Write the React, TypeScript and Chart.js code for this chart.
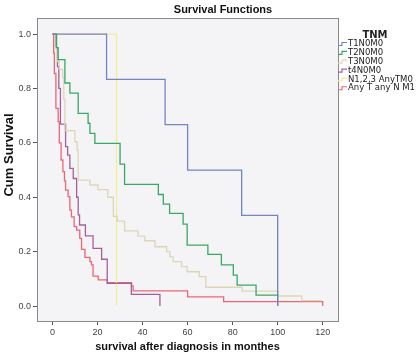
import React, { useEffect, useRef } from 'react';
import { Chart, registerables } from 'chart.js';

Chart.register(...registerables);

const seriesNames = ['T1N0M0', 'T2N0M0', 'T3N0M0', 't4N0M0', 'N1,2,3 AnyTM0', 'Any T any N M1'];
const seriesColors = ['#7483c2', '#37a866', '#ddd6b6', '#a5609b', '#f2ed98', '#ec6676'];

const t1Months = [0, 24, 50, 60, 84, 100];
const t1Surv = [1, 0.833, 0.667, 0.5, 0.333, 0];

const t2Months = [0, 1.8, 2.5, 5.5, 7.7, 11.4, 15.8, 16.6, 18.8, 30, 32, 47, 49.2, 52, 58, 59.8, 69, 75, 80.3, 82, 90.4, 100];
const t2Surv = [1, 0.95, 0.906, 0.82, 0.783, 0.708, 0.672, 0.635, 0.598, 0.522, 0.447, 0.41, 0.375, 0.341, 0.301, 0.224, 0.19, 0.151, 0.114, 0.077, 0.04, 0];

const t3Months = [0, 1, 2, 3, 4.5, 5, 5.5, 9.9, 10.9, 11.4, 16.6, 20.2, 24.5, 27, 28.7, 32, 38, 41, 45.5, 50.7, 52.1, 53.6, 57.3, 59.8, 65.2, 68.1, 84.2, 100.3, 110.7, 119.5];
const t3Surv = [1, 0.95, 0.9, 0.87, 0.84, 0.76, 0.645, 0.604, 0.574, 0.463, 0.445, 0.428, 0.4, 0.33, 0.312, 0.276, 0.257, 0.24, 0.218, 0.2, 0.181, 0.163, 0.145, 0.126, 0.108, 0.069, 0.055, 0.037, 0.02, 0.02];

const t4Months = [0, 1.5, 2.2, 2.8, 3.5, 5.8, 6.7, 7.7, 9.2, 10.7, 11.4, 12, 14.6, 18, 21.8, 24.3, 35, 47.7];
const t4Surv = [1, 0.95, 0.88, 0.8, 0.669, 0.586, 0.555, 0.506, 0.469, 0.4, 0.335, 0.298, 0.258, 0.212, 0.172, 0.083, 0.043, 0];

const nMonths = [0, 28.4];
const nSurv = [1, 0];

const m1Months = [0, 0.5, 0.8, 1.5, 2.5, 3, 3.8, 4.6, 5.3, 5.8, 6.9, 7.7, 8.4, 9.6, 10.7, 12.1, 12.9, 14.4, 16.6, 17.3, 18, 20.3, 24.3, 35.1, 35.8, 60, 76, 120];
const m1Surv = [1, 0.93, 0.855, 0.727, 0.678, 0.6, 0.537, 0.494, 0.46, 0.426, 0.402, 0.353, 0.328, 0.292, 0.279, 0.249, 0.208, 0.179, 0.163, 0.151, 0.11, 0.096, 0.086, 0.074, 0.056, 0.034, 0.016, 0];

const xTicks = [0, 20, 40, 60, 80, 100, 120];
const yTicks = [0, 0.2, 0.4, 0.6, 0.8, 1.0];

const seriesMonths = [t1Months, t2Months, t3Months, t4Months, nMonths, m1Months];
const seriesSurv = [t1Surv, t2Surv, t3Surv, t4Surv, nSurv, m1Surv];

const FONT = '"Liberation Sans", Arial, sans-serif';

const decorPlugin = {
  id: 'decor',
  beforeDraw(chart: any) {
    const { ctx, chartArea: a } = chart;
    ctx.save();
    ctx.fillStyle = '#f4f4f6';
    ctx.fillRect(a.left, a.top, a.right - a.left, a.bottom - a.top);
    ctx.restore();
  },
  afterDraw(chart: any) {
    const { ctx, chartArea: a } = chart;
    ctx.save();
    ctx.strokeStyle = '#8a8a8a';
    ctx.lineWidth = 1;
    ctx.strokeRect(Math.round(a.left) + 0.5, Math.round(a.top) + 0.5, Math.round(a.right - a.left), Math.round(a.bottom - a.top));

    ctx.fillStyle = '#111';
    ctx.textAlign = 'center';
    ctx.textBaseline = 'middle';
    ctx.font = `bold 11px ${FONT}`;
    ctx.fillText('Survival Functions', 223, 10);

    ctx.save();
    ctx.translate(9, 155);
    ctx.rotate(-Math.PI / 2);
    ctx.font = `bold 13px ${FONT}`;
    ctx.fillText('Cum Survival', 0, 0);
    ctx.restore();

    ctx.font = `bold 10px "DejaVu Sans", sans-serif`;
    ctx.fillStyle = '#222';
    ctx.fillText('TNM', 375, 35);

    ctx.textAlign = 'left';
    ctx.font = `8.5px "DejaVu Sans", sans-serif`;
    seriesNames.forEach((name, i) => {
      const y = 44 + i * 8.85;
      ctx.strokeStyle = seriesColors[i];
      ctx.lineWidth = 1.2;
      ctx.beginPath();
      ctx.moveTo(338, y + 1.5);
      ctx.lineTo(342, y + 1.5);
      ctx.lineTo(342, y - 1.5);
      ctx.lineTo(347, y - 1.5);
      ctx.stroke();
      ctx.fillStyle = '#222';
      ctx.fillText(name, 348, y);
    });
    ctx.restore();
  },
};

export default function App() {
  const ref = useRef<HTMLCanvasElement | null>(null);

  useEffect(() => {
    if (!ref.current) return;
    const datasets = seriesNames.map((name, i) => ({
      label: name,
      data: seriesMonths[i].map((x, j) => ({ x, y: seriesSurv[i][j] })),
      borderColor: seriesColors[i],
      backgroundColor: seriesColors[i],
      borderWidth: 1.3,
      pointRadius: 0,
      stepped: true as any,
      fill: false,
    }));

    const chart = new Chart(ref.current, {
      type: 'line',
      data: { datasets },
      plugins: [decorPlugin],
      options: {
        animation: false,
        responsive: false,
        events: [],
        layout: { padding: { top: 18, right: 81, bottom: 0, left: 0 } },
        plugins: {
          legend: { display: false },
          title: { display: false },
          tooltip: { enabled: false },
        },
        scales: {
          x: {
            type: 'linear',
            min: -6.9,
            max: 126.8,
            afterBuildTicks: (scale: any) => {
              scale.ticks = xTicks.map((v) => ({ value: v }));
            },
            afterFit: (scale: any) => {
              scale.height = 37;
            },
            grid: { display: true, drawOnChartArea: false, drawTicks: true, tickLength: 4, color: '#555' },
            border: { display: false },
            ticks: {
              color: '#444',
              padding: 2,
              maxRotation: 0,
              font: { family: FONT, size: 9 },
              callback: (v: any) => String(v),
            },
            title: {
              display: true,
              text: 'survival after diagnosis in monthes',
              color: '#111',
              font: { family: FONT, size: 11, weight: 'bold' },
              padding: { top: 2, bottom: 4 },
            },
          },
          y: {
            type: 'linear',
            min: -0.055,
            max: 1.059,
            afterBuildTicks: (scale: any) => {
              scale.ticks = yTicks.map((v) => ({ value: v }));
            },
            afterFit: (scale: any) => {
              scale.width = 37;
            },
            grid: { display: true, drawOnChartArea: false, drawTicks: true, tickLength: 4, color: '#555' },
            border: { display: false },
            ticks: {
              color: '#444',
              padding: 2,
              font: { family: FONT, size: 9 },
              callback: (v: any) => Number(v).toFixed(1),
            },
          },
        },
      },
    });
    return () => chart.destroy();
  }, []);

  return (
    <div style={{ position: 'fixed', left: 0, top: 0, width: 419, height: 358, background: '#fff' }}>
      <canvas ref={ref} width={419} height={358} style={{ display: 'block' }} />
    </div>
  );
}
